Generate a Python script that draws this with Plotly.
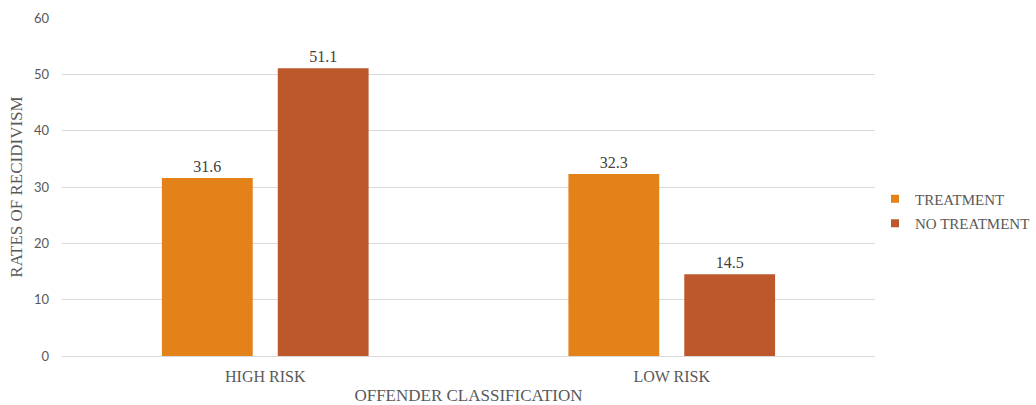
import plotly.graph_objects as go

categories = ["HIGH RISK", "LOW RISK"]
treatment = [31.6, 32.3]
no_treatment = [51.1, 14.5]
y_ticks = [0, 10, 20, 30, 40, 50, 60]

serif = "'Times New Roman', 'Liberation Serif', serif"
sans = "Lato, sans-serif"
c_treat = "#E4821A"
c_none = "#BD582C"

fig = go.Figure()
fig.add_trace(go.Bar(
    x=categories, y=treatment, name="TREATMENT", showlegend=False,
    marker=dict(color=c_treat, line=dict(width=0)),
    text=[f"{v:.1f}" for v in treatment], textposition="outside",
    textfont=dict(family=serif, size=16, color="#404040"), cliponaxis=False,
))
fig.add_trace(go.Bar(
    x=categories, y=no_treatment, name="NO TREATMENT", showlegend=False,
    marker=dict(color=c_none, line=dict(width=0)),
    text=[f"{v:.1f}" for v in no_treatment], textposition="outside",
    textfont=dict(family=serif, size=16, color="#404040"), cliponaxis=False,
))

# legend entries with small square keys
for name, color, grp in [("TREATMENT", c_treat, "t"), ("NO TREATMENT", c_none, "n")]:
    fig.add_trace(go.Scatter(
        x=[None], y=[None], mode="markers", name=name, legendgroup=grp,
        marker=dict(symbol="square", size=8, color=color),
    ))

fig.update_layout(
    width=1036, height=405,
    margin=dict(l=62, r=161, t=18, b=49, autoexpand=False),
    paper_bgcolor="white", plot_bgcolor="white",
    barmode="group", bargap=0.43, bargroupgap=0.216,
    font=dict(family=serif, color="#595959"),
    showlegend=True,
    legend=dict(
        x=1.0, y=0.429, xanchor="left", yanchor="middle",
        font=dict(family=serif, size=15, color="#595959"),
        itemwidth=30, tracegroupgap=2,
    ),
    xaxis=dict(
        title=dict(text="OFFENDER CLASSIFICATION", font=dict(family=serif, size=17, color="#595959"), standoff=10),
        tickfont=dict(family=serif, size=16, color="#595959"),
        showgrid=False, showline=False, ticks="", ticklabelstandoff=9,
    ),
    yaxis=dict(
        title=dict(text="RATES OF RECIDIVISM", font=dict(family=serif, size=17, color="#595959"), standoff=6),
        range=[0, 60], tickvals=y_ticks,
        tickfont=dict(family=sans, size=13, color="#595959"),
        showgrid=True, gridcolor="#D9D9D9", gridwidth=1,
        zeroline=True, zerolinecolor="#D9D9D9", zerolinewidth=1,
        ticks="", ticklabelstandoff=12,
    ),
)

fig.write_html("out.html")
